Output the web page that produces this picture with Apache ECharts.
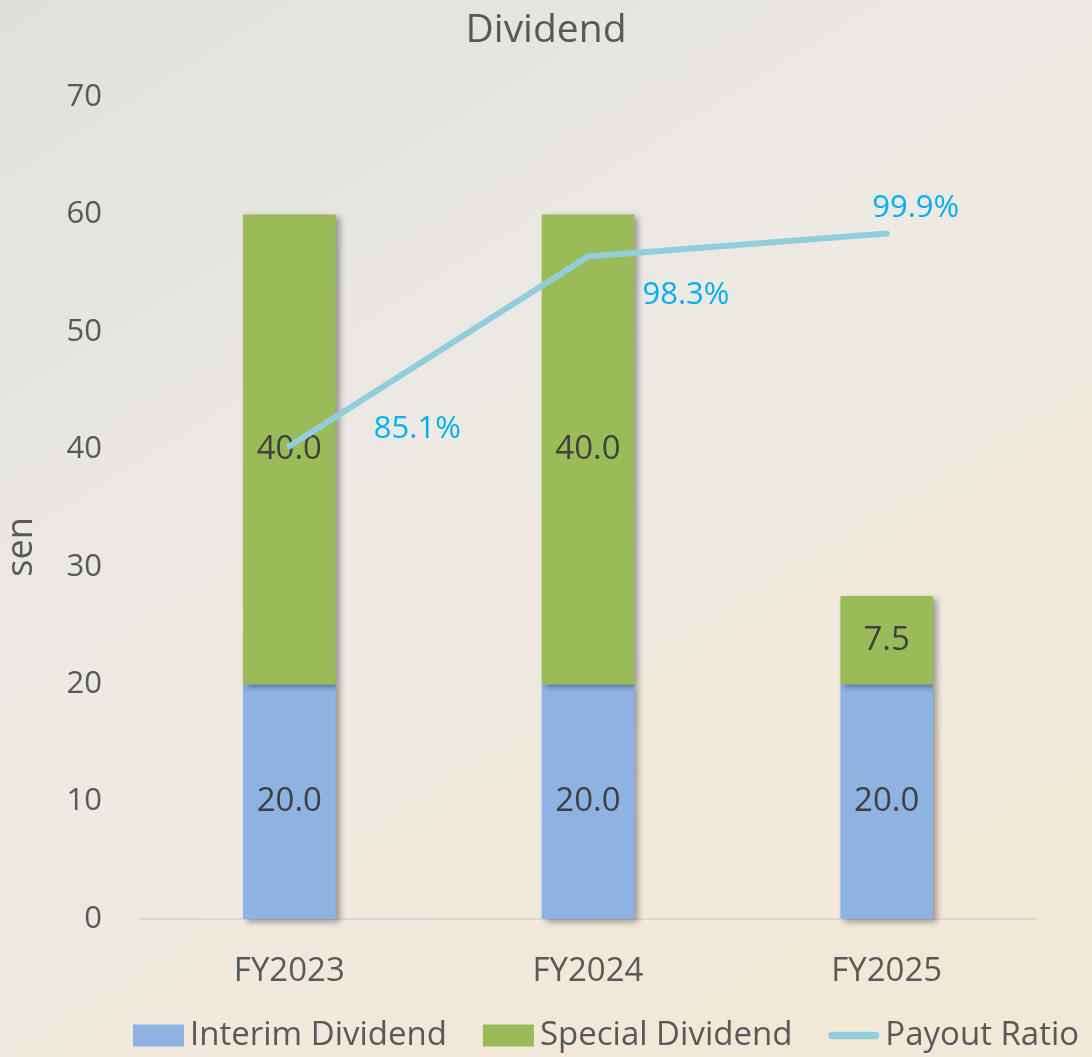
<!DOCTYPE html>
<html>
<head>
<meta charset="utf-8">
<script src="https://cdn.jsdelivr.net/npm/echarts@6/dist/echarts.min.js"></script>
<style>
  html, body { margin: 0; padding: 0; }
  #chart { width: 1092px; height: 1057px; }
</style>
</head>
<body>
<div id="chart"></div>
<script>
// 数据
const years = ['FY2023', 'FY2024', 'FY2025'];
const interimDividend = [20.0, 20.0, 20.0];
const specialDividend = [40.0, 40.0, 7.5];
const payoutRatio = [85.1, 98.3, 99.9];
// 比率标签偏移
const ratioLabelOffsets = [[128, -17], [98, 39], [29, -25]];

const font = 'Open Sans';
const chart = echarts.init(document.getElementById('chart'));

const barShadow = {
	shadowColor: 'rgba(0,0,0,0.35)',
	shadowBlur: 6,
	shadowOffsetX: 4,
	shadowOffsetY: 3
};
const barLabel = {
	show: true,
	position: 'inside',
	color: '#404040',
	fontFamily: font,
	fontSize: 33,
	formatter: (p) => p.value.toFixed(1)
};

chart.setOption({
	backgroundColor: {
		type: 'linear', x: 0, y: 0, x2: 0.6, y2: 1,
		colorStops: [
			{ offset: 0, color: '#E2E0DB' },
			{ offset: 0.5, color: '#EDEAE4' },
			{ offset: 1, color: '#F1E8D8' }
		]
	},
	title: {
		text: 'Dividend',
		left: 'center',
		top: 6,
		textStyle: { color: '#595959', fontFamily: font, fontSize: 39, fontWeight: 'normal' }
	},
	legend: {
		bottom: 0,
		left: 128,
		itemWidth: 51,
		itemHeight: 22,
		itemGap: 36,
		textStyle: { color: '#595959', fontFamily: font, fontSize: 33, padding: [0, 0, 0, 1] },
		data: [
			{ name: 'Interim Dividend', icon: 'rect' },
			{ name: 'Special Dividend', icon: 'rect' },
			{
				name: 'Payout Ratio',
				icon: 'path://M4,0 L50,0 A4,4 0 0 1 50,8 L4,8 A4,4 0 0 1 4,0 Z',
				itemStyle: { color: '#92CDDC' }
			}
		]
	},
	grid: { left: 140, right: 56, top: 97, bottom: 138, outerBoundsMode: 'none' },
	xAxis: {
		type: 'category',
		data: years,
		axisLine: { lineStyle: { color: '#D9D9D9', width: 2 } },
		axisTick: { show: false },
		axisLabel: { color: '#595959', fontFamily: font, fontSize: 33, margin: 36 }
	},
	yAxis: [
		{
			type: 'value',
			min: 0,
			max: 70,
			interval: 10,
			name: 'sen',
			nameLocation: 'middle',
			nameGap: 100,
			nameTextStyle: { color: '#595959', fontFamily: font, fontSize: 36, padding: [0, 78, 0, 0] },
			axisLine: { show: false },
			axisTick: { show: false },
			splitLine: { show: false },
			axisLabel: { color: '#595959', fontFamily: font, fontSize: 31, margin: 38 }
		},
		{
			type: 'value',
			min: 52.2,
			max: 109.4,
			show: false,
			splitLine: { show: false }
		}
	],
	series: [
		{
			name: 'Interim Dividend',
			type: 'bar',
			stack: 'div',
			barWidth: '31%',
			data: interimDividend,
			itemStyle: Object.assign({ color: '#8DB3E2' }, barShadow),
			label: barLabel
		},
		{
			name: 'Special Dividend',
			type: 'bar',
			stack: 'div',
			barWidth: '31%',
			data: specialDividend,
			itemStyle: Object.assign({ color: '#9BBB59' }, barShadow),
			label: barLabel
		},
		{
			name: 'Payout Ratio',
			type: 'line',
			yAxisIndex: 1,
			symbol: 'circle',
			symbolSize: 1,
			itemStyle: { color: '#92CDDC' },
			lineStyle: { color: '#92CDDC', width: 6, cap: 'round', join: 'round' },
			data: payoutRatio.map((v, i) => ({
				value: v,
				label: {
					show: true,
					position: 'inside',
					offset: ratioLabelOffsets[i],
					color: '#00B0F0',
					fontFamily: font,
					fontSize: 31,
					formatter: (p) => p.value.toFixed(1) + '%'
				}
			})),
			z: 5
		}
	]
});
</script>
</body>
</html>
